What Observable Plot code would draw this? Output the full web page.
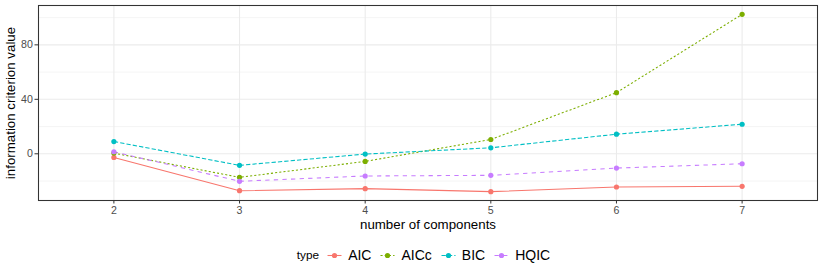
<!DOCTYPE html>
<html>
<head>
<meta charset="utf-8">
<script src="https://cdn.jsdelivr.net/npm/d3@7"></script>
<script src="https://cdn.jsdelivr.net/npm/@observablehq/plot@0.6"></script>
<style>
  html, body { margin: 0; padding: 0; background: #fff; }
  body { width: 822px; height: 274px; overflow: hidden; font-family: "Liberation Sans", Arial, sans-serif; }
  #legend { display: flex; align-items: center; justify-content: center; height: 38px; width: 822px; padding-left: 33px; box-sizing: border-box; }
  #legend .title { font-size: 11.8px; color: #000; margin-right: 7px; }
  #legend .item { display: flex; align-items: center; margin-right: 8px; }
  #legend .item svg { display: block; }
  #legend .lab { font-size: 14px; color: #000; margin-left: 5px; }
</style>
</head>
<body>
<div id="chart"></div>
<div id="legend"></div>
<script>
const components = [2, 3, 4, 5, 6, 7];
const aic  = [-2.7, -27.1, -25.6, -27.8, -24.4, -23.9];
const aicc = [0.5, -17.3, -5.6, 10.5, 44.9, 102.4];
const bic  = [9.0, -8.5, -0.2, 4.4, 14.4, 21.7];
const hqic = [1.5, -20.2, -16.3, -15.8, -10.5, -7.3];
const types = ["AIC", "AICc", "BIC", "HQIC"];
const colors = ["#F8766D", "#7CAE00", "#00BFC4", "#C77CFF"];
const dashes = ["none", "2.1 2.1", "4.3 2.1", "4.3 4.3"];
const yTicks = [0, 40, 80];
const yMinor = [-20, 20, 60, 100];

const seriesValues = [aic, aicc, bic, hqic];
const data = types.flatMap((t, i) => components.map((c, j) => ({type: t, n: c, value: seriesValues[i][j]})));

const font = "'Liberation Sans', Arial, sans-serif";

const marks = [
  Plot.ruleY(yMinor, {stroke: "#EBEBEB", strokeWidth: 0.55}),
  Plot.ruleY(yTicks, {stroke: "#EBEBEB", strokeWidth: 1.1}),
  Plot.ruleX(components, {stroke: "#EBEBEB", strokeWidth: 1.1}),
];
types.forEach((t, i) => {
  marks.push(Plot.line(data.filter(d => d.type === t), {
    x: "n", y: "value", stroke: colors[i], strokeWidth: 1.07,
    strokeDasharray: dashes[i], strokeLinecap: "butt"
  }));
});
types.forEach((t, i) => {
  marks.push(Plot.dot(data.filter(d => d.type === t), {
    x: "n", y: "value", fill: colors[i], r: 2.6, stroke: "none"
  }));
});
marks.push(
  Plot.axisX({ticks: components, tickFormat: d => String(d), tickSize: 3.5, tickPadding: 2.2,
    stroke: "#333333", fill: "#4D4D4D", fontSize: 10.6, label: null}),
  Plot.axisY({ticks: yTicks, tickFormat: d => String(d), tickSize: 3.5, tickPadding: 2.2,
    stroke: "#333333", fill: "#4D4D4D", fontSize: 10.6, label: null}),
  Plot.text(["number of components"], {frameAnchor: "bottom", lineAnchor: "middle", dy: 24, fontSize: 13.3, fill: "#000"}),
  Plot.text(["information criterion value"], {frameAnchor: "left", textAnchor: "middle", lineAnchor: "middle", dx: -28, rotate: -90, fontSize: 13.3, fill: "#000"}),
  Plot.frame({stroke: "#333333", strokeWidth: 1.07})
);

const chart = Plot.plot({
  width: 822,
  height: 236,
  marginLeft: 38,
  marginRight: 5,
  marginTop: 5,
  marginBottom: 36,
  style: {fontFamily: font, background: "white", overflow: "visible"},
  x: {type: "linear", domain: [1.4, 7.6], axis: null},
  y: {type: "linear", domain: [-34.3, 108.9], axis: null},
  marks
});
document.getElementById("chart").appendChild(chart);

// legend
const legend = document.getElementById("legend");
const title = document.createElement("span");
title.className = "title";
title.textContent = "type";
legend.appendChild(title);
types.forEach((t, i) => {
  const item = document.createElement("div");
  item.className = "item";
  const svg = d3.create("svg").attr("width", 17).attr("height", 17);
  svg.append("line").attr("x1", 1.5).attr("x2", 15.5).attr("y1", 8.5).attr("y2", 8.5)
    .attr("stroke", colors[i]).attr("stroke-width", 1.07)
    .attr("stroke-dasharray", dashes[i] === "none" ? null : dashes[i]);
  svg.append("circle").attr("cx", 8.5).attr("cy", 8.5).attr("r", 2.6).attr("fill", colors[i]);
  item.appendChild(svg.node());
  const lab = document.createElement("span");
  lab.className = "lab";
  lab.textContent = t;
  item.appendChild(lab);
  legend.appendChild(item);
});
</script>
</body>
</html>
